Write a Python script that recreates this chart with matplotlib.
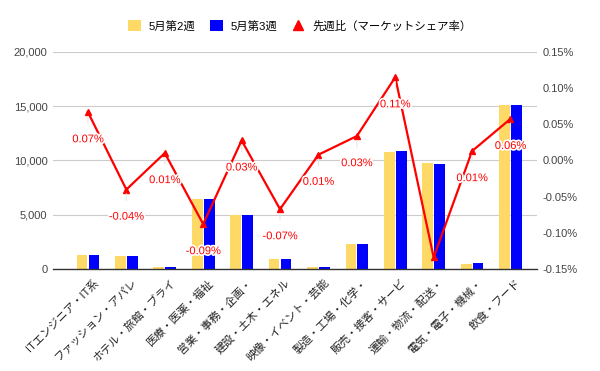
import matplotlib
matplotlib.use("Agg")
import matplotlib.pyplot as plt
import matplotlib.patheffects as pe
import matplotlib.transforms as mtransforms
from matplotlib.lines import Line2D
from matplotlib.patches import Patch
import numpy as np

plt.rcParams['font.family'] = ['Liberation Sans', 'Noto Sans CJK JP', 'DejaVu Sans']

categories = ["ITエンジニア・IT系", "ファッション・アパレ", "ホテル・旅館・ブライ", "医療・医薬・福祉",
              "営業・事務・企画・", "建設・土木・エネル", "映像・イベント・芸能", "製造・工場・化学・",
              "販売・接客・サービ", "運輸・物流・配送・", "電気・電子・機械・", "飲食・フード"]
week2 = [1310, 1210, 210, 6450, 4990, 950, 210, 2320, 10770, 9730, 490, 15080]
week3 = [1320, 1220, 215, 6460, 4995, 950, 215, 2330, 10890, 9670, 580, 15090]
share_change = [0.0665, -0.0403, 0.0101, -0.088, 0.0275, -0.0674, 0.0078, 0.0335, 0.1147, -0.134, 0.0128, 0.0573]
show_label = [True, True, True, True, True, True, True, True, True, False, True, True]
series_names = ["5月第2週", "5月第3週", "先週比（マーケットシェア率）"]

yellow = "#FFD966"
blue = "#0000FF"
red = "#FF0000"

fig = plt.figure(figsize=(6, 3.71), dpi=100)
ax = fig.add_axes([53/600, 102/371, 484/600, 217.3/371])
x = np.arange(len(categories))
w = 0.28
off = 0.155
ax.bar(x - off, week2, width=w, color=yellow, zorder=2)
ax.bar(x + off, week3, width=w, color=blue, zorder=2)
ax.set_xlim(-0.91, 11.69)
ax.set_ylim(0, 20000)
ax.set_yticks([0, 5000, 10000, 15000, 20000])
ax.set_yticklabels([f"{v:,}" for v in [0, 5000, 10000, 15000, 20000]])
ax.grid(axis='y', color='#cccccc', linewidth=0.8, zorder=0)
ax.set_axisbelow(True)
for s in ['top', 'right', 'left']:
    ax.spines[s].set_visible(False)
ax.spines['bottom'].set_color('#333333')
ax.spines['bottom'].set_linewidth(1.0)
ax.tick_params(axis='y', length=0, labelsize=8, labelcolor='#444444', pad=4)
ax.tick_params(axis='x', length=0, labelsize=8, labelcolor='#222222', pad=3)
ax.set_xticks(x)
ax.set_xticklabels(categories, rotation=45, ha='right', rotation_mode='anchor')
shift = mtransforms.ScaledTranslation(0.05, -0.04, fig.dpi_scale_trans)
for lab in ax.get_xticklabels():
    lab.set_transform(lab.get_transform() + shift)

ax2 = ax.twinx()
ax2.set_ylim(-0.15, 0.15)
rt = [-0.15, -0.10, -0.05, 0.0, 0.05, 0.10, 0.15]
ax2.set_yticks(rt)
ax2.set_yticklabels([f"{v:.2f}%" for v in rt])
for s in ['top', 'right', 'left', 'bottom']:
    ax2.spines[s].set_visible(False)
ax2.tick_params(axis='y', length=0, labelsize=8, labelcolor='#444444', pad=4)
ax2.plot(x, share_change, color=red, linewidth=1.6, marker='^', markersize=4, zorder=5)
for xi, v, sh in zip(x, share_change, show_label):
    if not sh:
        continue
    ax2.annotate(f"{v:.2f}%", xy=(xi, v), xytext=(0, -19.5), textcoords='offset points',
                 ha='center', va='center', fontsize=8, color=red,
                 path_effects=[pe.withStroke(linewidth=2.5, foreground='white')],
                 arrowprops=dict(arrowstyle='-', color='#e6e6e6', lw=0.8, shrinkA=6, shrinkB=3),
                 zorder=6)

handles = [Patch(facecolor=yellow, edgecolor='none'),
           Patch(facecolor=blue, edgecolor='none'),
           Line2D([], [], color=red, marker='^', linestyle='none', markersize=7)]
fig.legend(handles, series_names, loc='center', bbox_to_anchor=(0.5, 1 - 26/371), ncol=3,
           frameon=False, fontsize=8.2, handlelength=1.1, handleheight=1.1, columnspacing=1.3,
           handletextpad=0.7)

fig.savefig("out.png", dpi=100)
